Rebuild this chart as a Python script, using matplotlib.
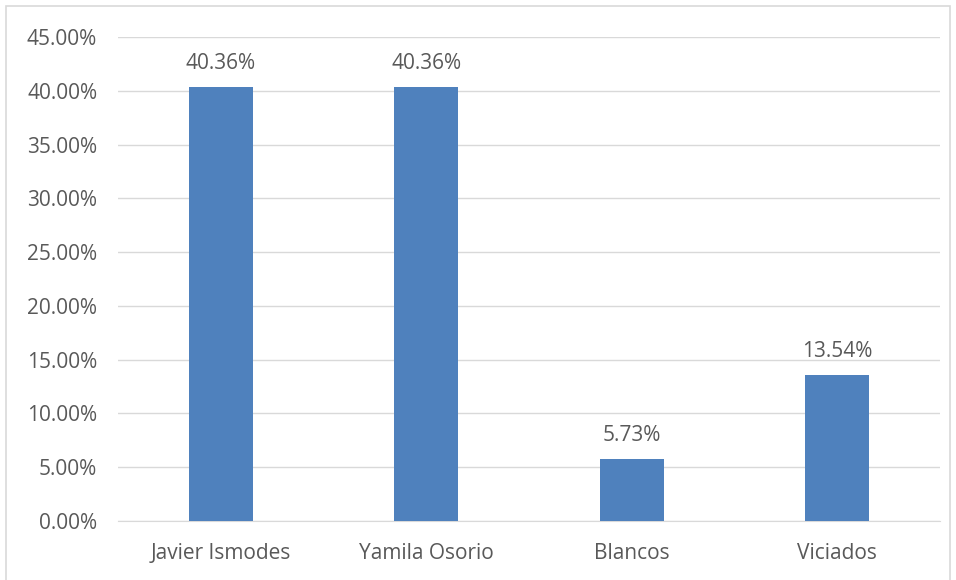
import matplotlib.pyplot as plt
import matplotlib.patches as mpatches
from matplotlib.ticker import FuncFormatter, MultipleLocator

plt.rcParams['font.family'] = ['Open Sans', 'DejaVu Sans']

categories = ['Javier Ismodes', 'Yamila Osorio', 'Blancos', 'Viciados']
values = [40.36, 40.36, 5.73, 13.54]
labels = ['40.36%', '40.36%', '5.73%', '13.54%']

text_color = '#595959'
grid_color = '#D9D9D9'
bar_color = '#4F81BD'
fs = 15

fig = plt.figure(figsize=(9.56, 5.8), dpi=100)
ax = fig.add_axes([0.1234, 0.1017, 0.8599, 0.8345])

x = range(len(categories))
ax.bar(x, values, width=0.31, color=bar_color, zorder=3)

# value labels above bars
for xi, v, lab in zip(x, values, labels):
    ax.annotate(lab, (xi, v), xytext=(0, 9.5), textcoords='offset points',
                ha='center', va='bottom', fontsize=fs, color=text_color)

ax.set_xlim(-0.5, 3.5)
ax.set_ylim(0, 45)
ax.yaxis.set_major_locator(MultipleLocator(5))
ax.yaxis.set_major_formatter(FuncFormatter(lambda v, p: '{:.2f}%'.format(v)))
ax.set_xticks(list(x))
ax.set_xticklabels(categories)

ax.grid(axis='y', color=grid_color, linewidth=1, zorder=0)
for s in ['top', 'right', 'left']:
    ax.spines[s].set_visible(False)
ax.spines['bottom'].set_color(grid_color)
ax.tick_params(axis='both', length=0, labelsize=fs, labelcolor=text_color)
ax.tick_params(axis='y', pad=15)
ax.tick_params(axis='x', pad=16)

# outer chart border
fig.patches.append(mpatches.Rectangle((6 / 956, -0.05), 944 / 956, 1.05 - 6 / 580,
                                      transform=fig.transFigure, fill=False,
                                      edgecolor='#D9D9D9', linewidth=1.2))

fig.savefig('out.png', dpi=100)
